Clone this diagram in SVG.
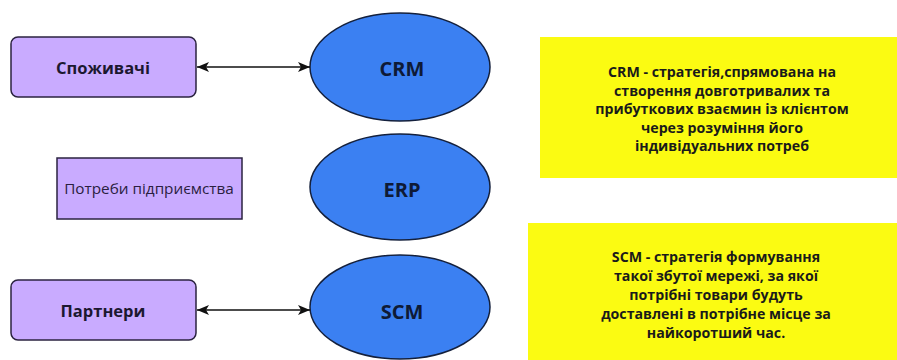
<svg xmlns="http://www.w3.org/2000/svg" width="897" height="360" viewBox="0 0 897 360">
  <defs>
    <marker id="arrow" viewBox="0 0 12 10" refX="12" refY="5" markerWidth="12" markerHeight="10" markerUnits="userSpaceOnUse" orient="auto-start-reverse">
      <path d="M0,0 L12,5 L0,10 L3,5 Z" fill="#111"/>
    </marker>
  </defs>
  <style>
    .box { fill: #c9abff; stroke: #2b2340; stroke-width: 1.5; }
    .oval { fill: #3b80f2; stroke: #14203c; stroke-width: 1.5; }
    .note { fill: #fbfb12; }
    .lbl { font-family: "Open Sans", "Noto Sans", sans-serif; font-weight: bold; fill: #1c1830; text-anchor: middle; dominant-baseline: central; }
    .plain { font-family: "Open Sans", "Noto Sans", sans-serif; fill: #2a2040; text-anchor: middle; dominant-baseline: central; }
    .sys { font-family: "Open Sans", "Noto Sans", sans-serif; font-weight: bold; fill: #0e1a36; text-anchor: middle; dominant-baseline: central; font-size: 20px; }
    .desc { font-family: "Open Sans", "Noto Sans", sans-serif; font-weight: bold; fill: #1a1a1a; text-anchor: middle; font-size: 14.2px; }
    .link { stroke: #111; stroke-width: 1.3; fill: none; }
  </style>

  <rect width="897" height="360" fill="#ffffff"/>

  <g id="consumers">
    <rect class="box" x="11" y="37" width="185" height="60" rx="7"/>
    <text class="lbl" x="103" y="67" font-size="16.5">Споживачі</text>
  </g>

  <g id="enterprise-needs">
    <rect class="box" x="57" y="158" width="185" height="61"/>
    <text class="plain" x="149" y="188" font-size="15.3">Потреби підприємства</text>
  </g>

  <g id="partners">
    <rect class="box" x="11" y="280" width="185" height="60" rx="7"/>
    <text class="lbl" x="103" y="310" font-size="16.5">Партнери</text>
  </g>

  <g id="crm">
    <ellipse class="oval" cx="400" cy="67" rx="90" ry="54"/>
    <text class="sys" x="402" y="68">CRM</text>
  </g>

  <g id="erp">
    <ellipse class="oval" cx="400" cy="187" rx="90" ry="53"/>
    <text class="sys" x="402" y="189">ERP</text>
  </g>

  <g id="scm">
    <ellipse class="oval" cx="400" cy="307" rx="90" ry="52"/>
    <text class="sys" x="402" y="311">SCM</text>
  </g>

  <g id="crm-note">
    <rect class="note" x="540" y="37" width="357" height="141"/>
    <text class="desc" x="722" y="77">CRM - стратегія,спрямована на</text>
    <text class="desc" x="722" y="95.5">створення довготривалих та</text>
    <text class="desc" x="722" y="114">прибуткових взаємин із клієнтом</text>
    <text class="desc" x="722" y="132.5">через розуміння його</text>
    <text class="desc" x="722" y="151">індивідуальних потреб</text>
  </g>

  <g id="scm-note">
    <rect class="note" x="528" y="223" width="369" height="137"/>
    <text class="desc" x="716" y="262">SCM - стратегія формування</text>
    <text class="desc" x="716" y="281">такої збутої мережі, за якої</text>
    <text class="desc" x="716" y="300">потрібні товари будуть</text>
    <text class="desc" x="716" y="319">доставлені в потрібне місце за</text>
    <text class="desc" x="716" y="338">найкоротший час.</text>
  </g>

  <g id="connectors">
    <line class="link" x1="197" y1="67" x2="310" y2="67" marker-start="url(#arrow)" marker-end="url(#arrow)"/>
    <line class="link" x1="197" y1="310" x2="310" y2="310" marker-start="url(#arrow)" marker-end="url(#arrow)"/>
  </g>
</svg>
